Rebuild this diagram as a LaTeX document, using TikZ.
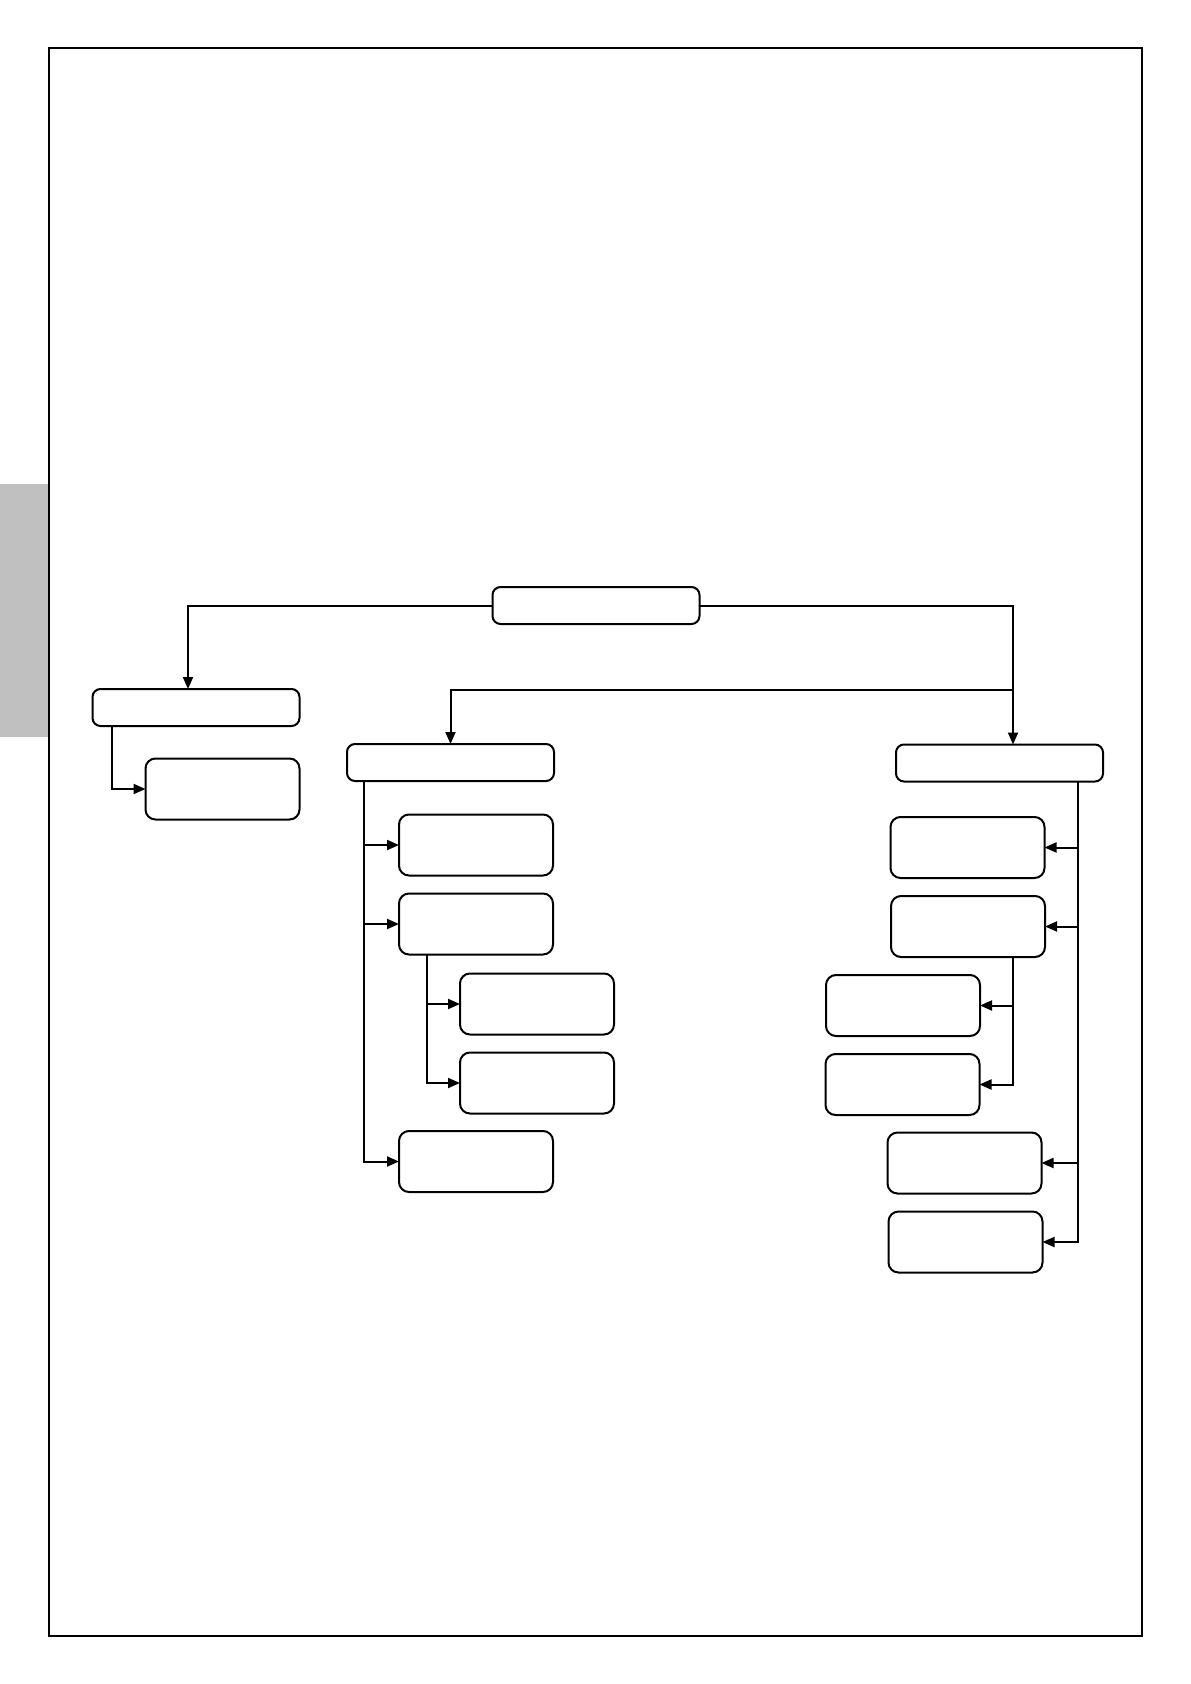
\documentclass[tikz,border=0pt]{standalone}
\usepackage{xcolor}
\usepackage{tikz}
\usetikzlibrary{arrows.meta, positioning}
\definecolor{tabgray}{RGB}{192,192,192}
\tikzstyle{head}  = [rectangle, rounded corners=4pt, minimum width=103.5pt, minimum height=18.5pt, inner sep=0pt, outer sep=0pt, draw=black, line width=1pt, fill=white]
\tikzstyle{leaf}  = [rectangle, rounded corners=5pt, minimum width=77pt, minimum height=30.5pt, inner sep=0pt, outer sep=0pt, draw=black, line width=1pt, fill=white]
\tikzstyle{line}  = [line width=1pt]
\tikzstyle{arrow} = [line width=1pt, -{Triangle[length=6pt, width=5pt]}]

\begin{document}
\begin{tikzpicture}[x=0.5pt, y=-0.5pt]
    \useasboundingbox (0,0) rectangle (1190,1684);
    \fill[tabgray] (0,484) rectangle (48,737);
    \draw[line width=1pt] (48.5,48.5) rectangle (1141.5,1635.5);

    \node (root)  at ( 596,  605.5) [head] {};
    \node (lhead) at ( 196,  707.5) [head] {};
    \node (lsub)  at ( 222.5, 789 ) [leaf] {};
    \node (mhead) at ( 450.5, 762.5) [head] {};
    \node (m1)    at ( 476,  845  ) [leaf] {};
    \node (m2)    at ( 476,  924  ) [leaf] {};
    \node (m2a)   at ( 537,  1004 ) [leaf] {};
    \node (m2b)   at ( 537,  1083 ) [leaf] {};
    \node (m3)    at ( 476,  1161.5) [leaf] {};
    \node (rhead) at ( 999.5, 763 ) [head] {};
    \node (r1)    at ( 967.5, 847.5) [leaf] {};
    \node (r2)    at ( 968,  926.5) [leaf] {};
    \node (r2a)   at ( 903,  1005.5) [leaf] {};
    \node (r2b)   at ( 902.5, 1084.5) [leaf] {};
    \node (r3)    at ( 964.5, 1163 ) [leaf] {};
    \node (r4)    at ( 965.5, 1242 ) [leaf] {};

    % top level
    \coordinate (rj) at (1013, 690);
    \draw [arrow] (root.west) -| ([xshift=-4pt]lhead.north);
    \draw [arrow] (root.east) -| ([xshift=6.75pt]rhead.north);
    \draw [arrow] (rj) -| (mhead.north);

    % left branch
    \draw [arrow] (lhead.south west) ++(19,0) |- (lsub.west);

    % middle branch
    \coordinate (mt)  at ([xshift=8.5pt]mhead.south west);
    \coordinate (m2t) at ([xshift=14pt]m2.south west);
    \draw [arrow] (mt) |- (m3.west);
    \foreach \n in {m1, m2}
        \draw [arrow] (mt |- \n.west) -- (\n.west);
    \draw [arrow] (m2t) |- (m2b.west);
    \draw [arrow] (m2t |- m2a.west) -- (m2a.west);

    % right branch
    \coordinate (rt)  at ([xshift=-12.5pt]rhead.south east);
    \coordinate (r2t) at ([xshift=-16pt]r2.south east);
    \draw [arrow] (rt) |- (r4.east);
    \foreach \n in {r1, r2, r3}
        \draw [arrow] (rt |- \n.east) -- (\n.east);
    \draw [arrow] (r2t) |- (r2b.east);
    \draw [arrow] (r2t |- r2a.east) -- (r2a.east);
\end{tikzpicture}
\end{document}
